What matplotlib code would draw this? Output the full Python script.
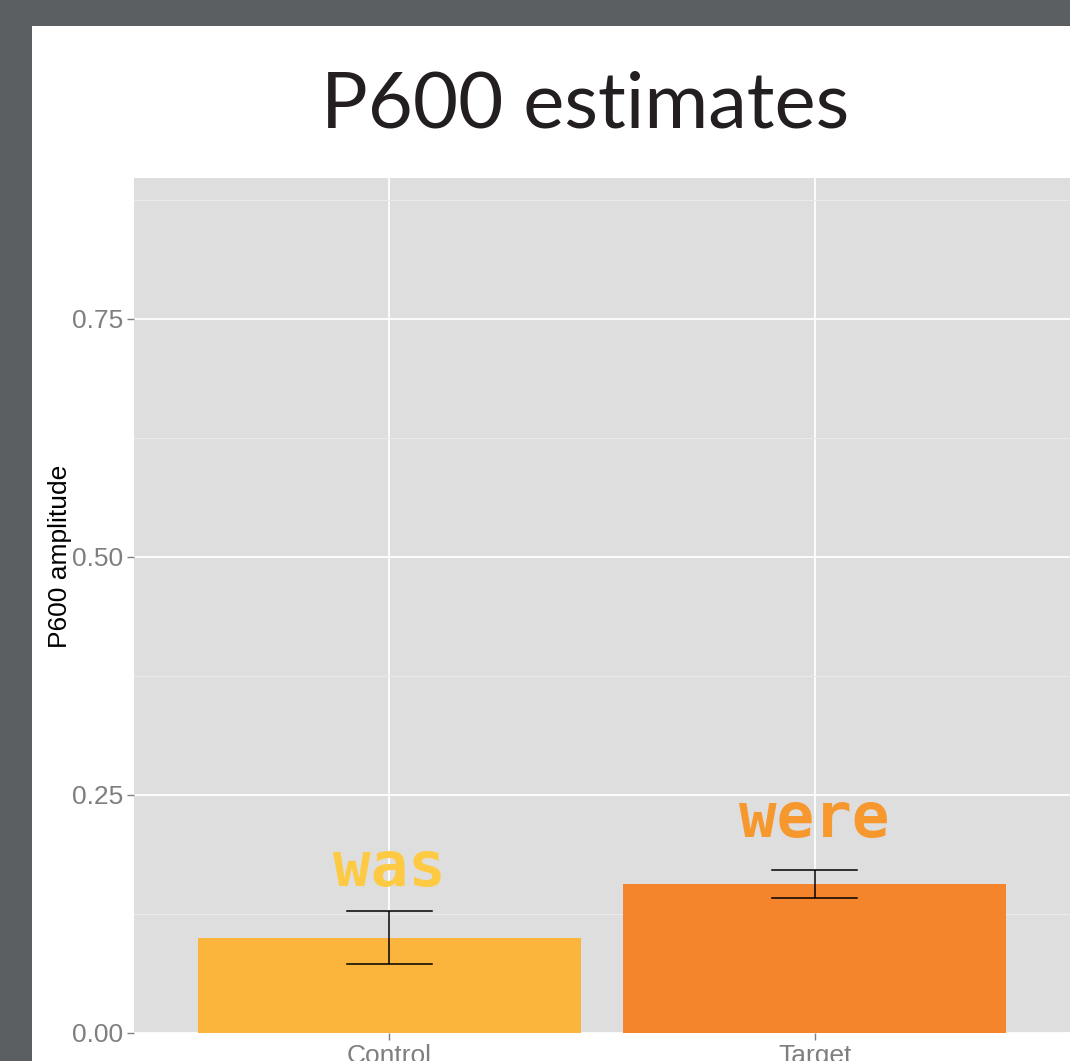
import matplotlib.pyplot as plt
from matplotlib.patches import Rectangle

conditions = ['Control', 'Target']
amplitude = [0.100, 0.1565]
se = [0.028, 0.0142]
bar_colors = ['#FBB53D', '#F5852C']
notes = ['was', 'were']
note_y = [0.154, 0.206]
note_colors = ['#FFCA43', '#F7982E']
y_ticks = [0.0, 0.25, 0.5, 0.75]

W, H = 1070, 1061
fig = plt.figure(figsize=(W / 100, H / 100), dpi=100)
fig.patch.set_facecolor('#5B5F61')
# white slide area
fig.add_artist(Rectangle((32 / W, 0), 1, (H - 26) / H, transform=fig.transFigure,
                         facecolor='white', edgecolor='none', zorder=0))

ax = fig.add_axes([134 / W, (H - 1033) / H, (1070 - 134) / W, (1033 - 178) / H])
ax.set_facecolor('#DEDEDE')
for s in ax.spines.values():
    s.set_visible(False)

x = [1, 2]
ax.bar(x, amplitude, width=0.9, color=bar_colors, zorder=2)
ax.errorbar(x, amplitude, yerr=se, fmt='none', ecolor='black', elinewidth=1.1,
            capsize=0, zorder=3)
for xi, m, e in zip(x, amplitude, se):
    for yy in (m - e, m + e):
        ax.plot([xi - 0.1, xi + 0.1], [yy, yy], color='black', lw=1.1, zorder=3)

for xi, t, yy, c in zip(x, notes, note_y, note_colors):
    ax.text(xi, yy, t, color=c, fontsize=45, fontweight='bold', family='DejaVu Sans Mono',
            ha='center', va='baseline', zorder=4)

ax.set_xlim(0.4, 2.6)
ax.set_ylim(0, 0.898)
ax.set_xticks(x)
ax.set_xticklabels(conditions)
ax.set_yticks(y_ticks)
ax.set_yticklabels(['0.00', '0.25', '0.50', '0.75'])
ax.set_yticks([0.125, 0.375, 0.625, 0.875], minor=True)
ax.grid(True, which='major', color='white', lw=1.3, zorder=1)
ax.grid(True, which='minor', axis='y', color='#EAEAEA', lw=0.8, zorder=1)
ax.set_axisbelow(True)
ax.tick_params(which='major', color='#7F7F7F', length=5, width=1,
               labelsize=19, labelcolor='#7F7F7F', pad=3)
ax.tick_params(which='minor', length=0)
for lab in ax.get_xticklabels() + ax.get_yticklabels():
    lab.set_family('Liberation Sans')

ax.set_ylabel('P600 amplitude', fontsize=19, family='Liberation Sans', color='black')
ax.yaxis.set_label_coords(-62 / (1070 - 134), 0.5, transform=None)
ax.yaxis.label.set_transform(fig.transFigure)
ax.yaxis.label.set_position((72 / W, 1 - 556 / H))

fig.text(585 / W, 1 - 106 / H, 'P600 estimates', fontsize=56, family='Lato',
         color='#231F20', ha='center', va='center')

fig.savefig('out.png', dpi=100, facecolor=fig.get_facecolor())
